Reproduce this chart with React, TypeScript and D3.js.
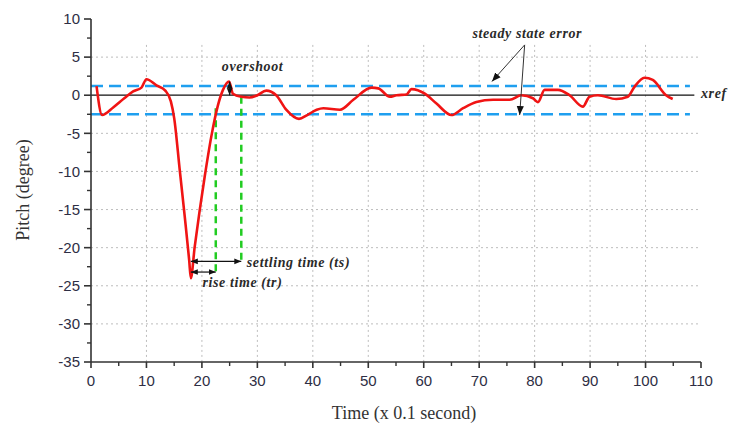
import React from "react";
import * as d3 from "d3";

const timeVals = [1, 2, 4, 6, 7.6, 9.1, 10, 11.8, 13.4, 14.4, 15, 16, 16.9, 17.7, 18, 18.7, 19.6, 20.5, 21.7, 22.9, 23.8, 24.9, 25.6, 27.1, 28.6, 30, 31.6, 33.4, 35.2, 37.5, 39, 40.7, 41.9, 44.9, 47.3, 50.6, 51.8, 53.9, 55.1, 56.9, 57.8, 60.2, 62.3, 65, 67.1, 69.5, 72.5, 75.5, 77.6, 79.7, 80.6, 81.8, 84.2, 86.3, 88.7, 89.9, 91.4, 94.7, 96.8, 98, 99.8, 101.3, 103.7, 104.9];
const pitchVals = [1.2, -2.6, -1.6, -0.4, 0.5, 1.0, 2.1, 1.3, 0.6, -0.8, -3, -9.8, -15.9, -21.6, -24, -19.9, -15.1, -10.7, -5.4, -1.3, 0.7, 1.8, 0.2, -0.2, -0.3, 0, 0.6, 0, -1.9, -3.1, -2.6, -1.9, -1.7, -1.9, -0.6, 1.0, 0.9, -0.2, 0, 0.1, 0.8, 0.2, -1.1, -2.6, -1.7, -0.9, -0.6, -0.6, 0, -0.4, -0.9, 0.7, 0.7, 0, -1.5, -0.2, 0, -0.5, -0.2, 1.1, 2.3, 2.0, 0, -0.5];

const xTicks = [0, 10, 20, 30, 40, 50, 60, 70, 80, 90, 100, 110];
const yTicks = [10, 5, 0, -5, -10, -15, -20, -25, -30, -35];
const xGridVals = [10, 20, 30, 40, 50, 60, 70, 80, 90, 100];
const yGridVals = [5, -5, -10, -15, -20, -25, -30];

const bandUpper = 1.2;
const bandLower = -2.5;
const peakTime = 18;
const riseEnd = 22.5;
const settleEnd = 27.1;

const W = 729, H = 430;
const M = { left: 91, right: 28, top: 19, bottom: 68 };

export default function App() {
  const x = d3.scaleLinear().domain([0, 110]).range([M.left, W - M.right]);
  const y = d3.scaleLinear().domain([-35, 10]).range([H - M.bottom, M.top]);
  const data = timeVals.map((t, i) => [t, pitchVals[i]] as [number, number]);
  const line = d3.line<[number, number]>().x(d => x(d[0])).y(d => y(d[1])).curve(d3.curveMonotoneX);
  const minorX = d3.range(5, 110, 10);
  const minorY = d3.range(-32.5, 10, 5);
  const gridTop = 6.6;
  const annFont = { fontFamily: "'Liberation Serif', 'Times New Roman', serif", fontStyle: "italic", fontWeight: "bold", fontSize: 14, fill: "#2a2a2a", letterSpacing: 0.6 } as const;
  const tickFont = { fontFamily: "'Liberation Sans', Arial, sans-serif", fontSize: 15, fill: "#2e2e44" } as const;
  const x0 = x(0), y0 = y(-35);

  return (
    <svg width={W} height={H} style={{ position: "absolute", left: 0, top: 0, background: "#fff" }}>
      <defs>
        <marker id="ah" viewBox="0 0 10 10" refX="10" refY="5" markerWidth="7" markerHeight="7" orient="auto-start-reverse" markerUnits="userSpaceOnUse">
          <path d="M0,1 L10,5 L0,9 z" fill="#111" />
        </marker>
        <marker id="ah2" viewBox="0 0 10 10" refX="10" refY="5" markerWidth="9" markerHeight="9" orient="auto-start-reverse" markerUnits="userSpaceOnUse">
          <path d="M0,1 L10,5 L0,9 z" fill="#111" />
        </marker>
      </defs>
      {yGridVals.map(v => (
        <line key={"hg" + v} x1={x0} x2={x(109.5)} y1={y(v)} y2={y(v)} stroke="#bdbdbd" strokeWidth={1} strokeDasharray="2,3" />
      ))}
      {xGridVals.map(v => (
        <line key={"vg" + v} x1={x(v)} x2={x(v)} y1={y(gridTop)} y2={y0} stroke="#bdbdbd" strokeWidth={1} strokeDasharray="2,3" />
      ))}
      <line x1={x0} x2={x(108.8)} y1={y(0)} y2={y(0)} stroke="#111" strokeWidth={1.3} />
      <line x1={x0} x2={x(108)} y1={y(bandUpper)} y2={y(bandUpper)} stroke="#1f9fef" strokeWidth={2.5} strokeDasharray="12,6" />
      <line x1={x0} x2={x(108)} y1={y(bandLower)} y2={y(bandLower)} stroke="#1f9fef" strokeWidth={2.5} strokeDasharray="12,6" />
      <line x1={x(riseEnd)} x2={x(riseEnd)} y1={y(-1.7)} y2={y(-23.2)} stroke="#22cc22" strokeWidth={2.5} strokeDasharray="7,5" />
      <line x1={x(settleEnd)} x2={x(settleEnd)} y1={y(-0.2)} y2={y(-21.8)} stroke="#22cc22" strokeWidth={2.5} strokeDasharray="7,5" />
      <path d={line(data) || ""} fill="none" stroke="#f01414" strokeWidth={2.6} strokeLinejoin="round" />
      <line x1={x(peakTime)} x2={x(settleEnd)} y1={y(-21.8)} y2={y(-21.8)} stroke="#111" strokeWidth={1.2} markerStart="url(#ah)" markerEnd="url(#ah)" />
      <line x1={x(peakTime)} x2={x(riseEnd)} y1={y(-23.2)} y2={y(-23.2)} stroke="#111" strokeWidth={1.2} markerStart="url(#ah)" markerEnd="url(#ah)" />
      <line x1={x(25)} x2={x(25)} y1={y(1.8)} y2={y(0)} stroke="#111" strokeWidth={1.2} markerStart="url(#ah)" markerEnd="url(#ah)" />
      <line x1={x(78.2)} x2={x(72.3)} y1={y(6.6)} y2={y(1.8)} stroke="#333" strokeWidth={1} markerEnd="url(#ah2)" />
      <line x1={x(78.2)} x2={x(77.3)} y1={y(6.6)} y2={y(-2.6)} stroke="#333" strokeWidth={1} markerEnd="url(#ah2)" />
      <text x={x(23.6)} y={y(3.2)} {...annFont}>overshoot</text>
      <text x={x(68.8)} y={y(7.55)} {...annFont}>steady state error</text>
      <text x={x(110)} y={y(-0.4)} {...annFont}>xref</text>
      <text x={x(28.1)} y={y(-22.5)} {...annFont}>settling time (ts)</text>
      <text x={x(20.1)} y={y(-25.1)} {...annFont}>rise time (tr)</text>
      <line x1={x0} x2={x0} y1={y(10)} y2={y0} stroke="#333" strokeWidth={1.6} />
      <line x1={x0} x2={x(110)} y1={y0} y2={y0} stroke="#333" strokeWidth={1.6} />
      {yTicks.map(v => (
        <g key={"yt" + v}>
          <line x1={x0 - 7} x2={x0} y1={y(v)} y2={y(v)} stroke="#333" strokeWidth={1.6} />
          <text x={x0 - 11} y={y(v)} dy="0.35em" textAnchor="end" {...tickFont}>{v}</text>
        </g>
      ))}
      {minorY.map(v => (
        <line key={"ym" + v} x1={x0 - 4} x2={x0} y1={y(v)} y2={y(v)} stroke="#333" strokeWidth={1.4} />
      ))}
      {xTicks.map(v => (
        <g key={"xt" + v}>
          <line x1={x(v)} x2={x(v)} y1={y0} y2={y0 + 6} stroke="#333" strokeWidth={1.6} />
          <text x={x(v)} y={y0 + 24} textAnchor="middle" {...tickFont}>{v}</text>
        </g>
      ))}
      {minorX.map(v => (
        <line key={"xm" + v} x1={x(v)} x2={x(v)} y1={y0} y2={y0 + 4} stroke="#333" strokeWidth={1.4} />
      ))}
      <text x={404} y={419} textAnchor="middle" fontFamily="'Liberation Serif', 'Times New Roman', serif" fontSize={18} fill="#333">Time (x 0.1 second)</text>
      <text transform="translate(29,190) rotate(-90)" textAnchor="middle" fontFamily="'Liberation Serif', 'Times New Roman', serif" fontSize={18} fill="#333">Pitch (degree)</text>
    </svg>
  );
}
